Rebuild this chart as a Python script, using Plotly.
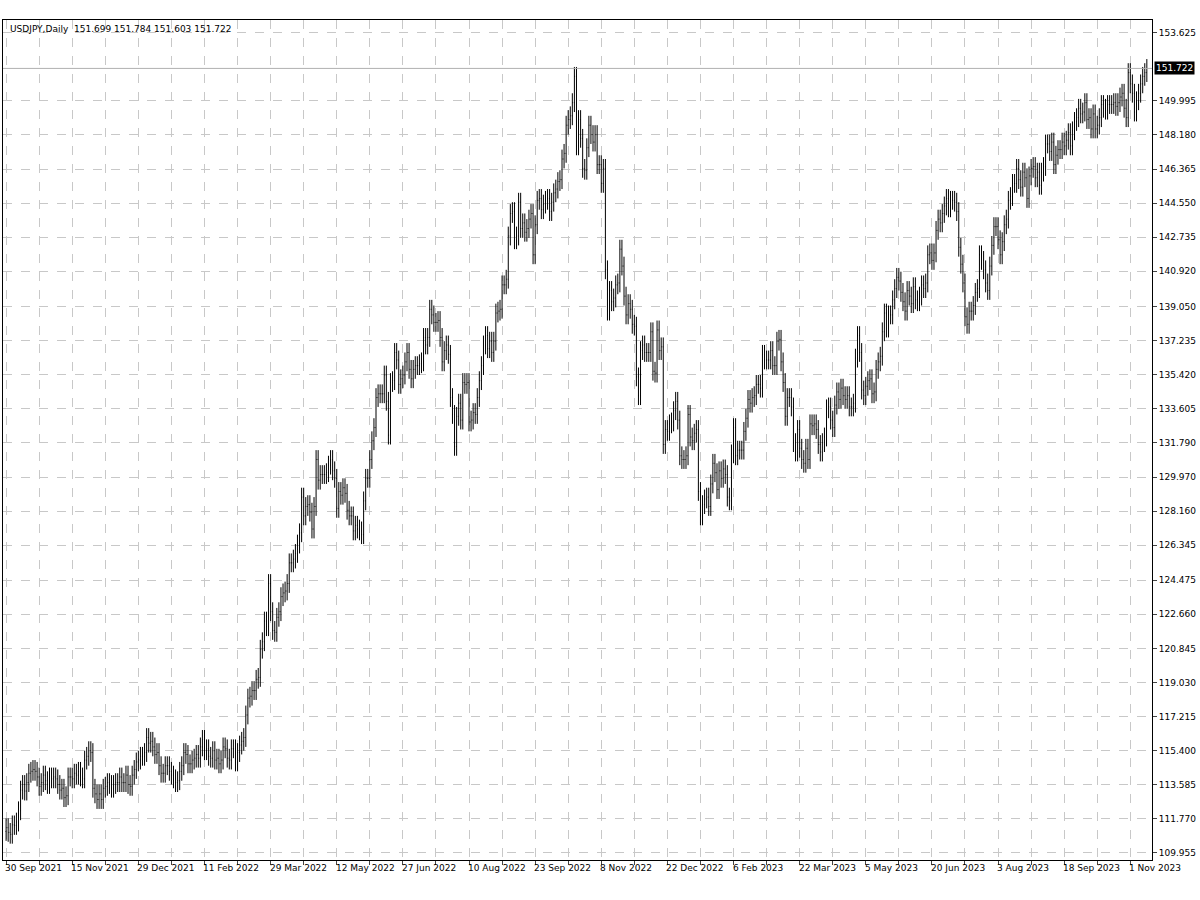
import pandas as pd
import plotly.graph_objects as go

# daily closes, USDJPY
closes = (
    [111.3]
    # Oct 2021
    + [111.05, 110.95, 111.45, 111.42, 111.6, 112.2, 113.3, 113.6, 113.25, 113.7, 114.2,
       114.3, 114.4, 114.3, 114.0, 113.5, 113.7, 114.1, 113.8, 113.6, 114.0]
    # Nov 2021
    + [113.9, 114.0, 113.9, 113.6, 113.3, 113.4, 112.9, 113.0, 114.0, 114.0, 113.9,
       114.2, 114.1, 114.3, 114.0, 113.9, 114.9, 115.1, 115.4, 115.3, 113.4, 113.1]
    # Dec 2021
    + [112.8, 113.1, 112.8, 113.4, 113.5, 113.7, 113.6, 113.4, 113.6, 113.7, 113.7, 114.0,
       113.7, 113.7, 114.1, 113.6, 113.5, 114.1, 114.4, 114.8, 114.9, 115.1, 115.1]
    # Jan 2022
    + [115.3, 116.1, 115.8, 115.9, 115.6, 115.2, 115.3, 114.6, 114.2, 114.2, 114.6,
       114.6, 114.3, 114.1, 113.9, 113.7, 113.8, 114.3, 114.6, 115.3, 115.2]
    # Feb 2022
    + [114.7, 114.7, 114.9, 115.0, 115.2, 115.0, 115.6, 116.0, 115.4, 115.5,
       115.1, 115.0, 115.4, 114.9, 115.0, 114.7, 114.9, 115.6, 115.5, 115.0]
    # Mar 2022
    + [114.9, 115.5, 115.5, 114.8, 115.3, 115.7, 115.9, 116.1, 117.3, 118.2, 118.3, 118.6,
       118.6, 119.2, 119.3, 120.8, 121.2, 122.3, 122.0, 124.3, 122.8, 121.8, 121.7]
    # Apr 2022
    + [122.5, 122.8, 123.6, 123.8, 123.9, 124.3, 125.4, 125.4, 125.6, 125.9, 126.4,
       127.0, 128.9, 127.9, 128.4, 128.5, 128.1, 127.2, 128.4, 130.9, 129.8]
    # May 2022
    + [130.1, 130.1, 130.1, 130.2, 130.6, 130.9, 130.3, 129.9, 128.3, 129.2, 129.0,
       129.4, 129.1, 128.2, 127.9, 127.9, 127.1, 127.4, 127.2, 127.1, 126.9, 128.7]
    # Jun 2022
    + [129.9, 129.9, 130.9, 131.9, 132.6, 134.2, 134.4, 134.4, 134.4, 135.4, 134.0,
       132.2, 135.0, 135.1, 136.6, 136.2, 134.9, 135.2, 135.4, 136.1, 136.6, 135.7]
    # Jul 2022
    + [135.2, 135.7, 135.9, 135.9, 136.0, 136.1, 137.4, 137.0, 137.4, 138.9, 138.6,
       138.2, 138.2, 138.3, 137.4, 136.1, 136.7, 137.0, 136.5, 134.2, 133.3]
    # Aug 2022
    + [131.6, 133.2, 133.9, 133.0, 135.0, 134.9, 135.0, 132.9, 133.0, 133.4, 133.3, 134.2,
       135.1, 135.9, 137.0, 137.5, 136.8, 137.2, 136.6, 137.2, 138.7, 138.8, 138.9]
    # Sep 2022
    + [140.2, 140.2, 140.5, 142.8, 144.0, 144.1, 142.6, 142.8, 144.6, 143.2, 143.5,
       143.0, 143.2, 143.7, 144.0, 141.8, 143.4, 144.7, 144.8, 144.2, 144.5, 144.7]
    # Oct 2022
    + [144.8, 144.1, 144.6, 145.1, 145.3, 145.7, 145.8, 146.9, 147.2, 148.7, 149.0,
       149.2, 149.9, 151.3, 147.6, 149.0, 148.0, 146.4, 146.3, 147.5, 148.7]
    # Nov 2022
    + [148.2, 147.8, 148.2, 146.6, 146.6, 145.6, 146.4, 141.0, 138.8, 139.9, 139.3,
       139.5, 140.2, 140.3, 142.1, 141.2, 139.6, 138.6, 139.2, 138.9, 138.1, 138.0]
    # Dec 2022
    + [135.3, 134.3, 136.7, 137.0, 136.6, 136.6, 136.6, 137.7, 135.6, 135.5, 137.8,
       136.7, 136.9, 131.7, 132.5, 132.4, 132.8, 132.9, 133.5, 134.0, 133.0, 131.1]
    # Jan 2023
    + [130.9, 130.9, 131.1, 133.3, 132.1, 131.9, 132.3, 132.5, 129.2, 127.9, 128.5,
       128.8, 128.9, 128.4, 129.6, 130.7, 130.2, 129.3, 130.3, 129.9, 130.4, 130.1]
    # Feb 2023
    + [128.9, 128.7, 131.2, 132.6, 131.1, 131.4, 131.4, 131.4, 132.4, 133.1,
       134.1, 133.9, 134.2, 134.3, 134.9, 134.9, 134.7, 136.5, 136.2, 136.2]
    # Mar 2023
    + [136.2, 136.7, 135.9, 135.9, 137.2, 137.3, 136.1, 135.0, 133.2, 134.2, 134.2, 133.7,
       131.8, 131.3, 132.5, 131.5, 130.9, 130.7, 131.5, 130.9, 132.8, 132.7, 132.8]
    # Apr 2023
    + [132.5, 131.7, 131.3, 131.8, 132.1, 133.6, 133.7, 133.0, 132.6, 133.8,
       134.5, 134.1, 134.7, 134.3, 134.1, 134.3, 133.7, 133.7, 133.9, 136.3]
    # May 2023
    + [137.5, 136.6, 134.6, 134.3, 134.8, 135.1, 135.2, 134.4, 134.5, 135.7, 136.1, 136.4,
       137.7, 138.7, 137.9, 138.6, 138.6, 139.4, 140.0, 140.6, 140.4, 139.8, 139.3]
    # Jun 2023
    + [138.8, 139.9, 139.6, 139.2, 140.1, 139.4, 139.3, 139.6, 140.2, 140.0, 140.3,
       141.8, 141.9, 141.5, 141.9, 143.1, 143.7, 143.5, 144.0, 144.4, 144.8, 144.3]
    # Jul 2023
    + [144.7, 144.7, 144.6, 144.1, 142.2, 141.3, 140.3, 138.5, 138.1, 138.8, 138.8,
       139.1, 139.8, 140.0, 141.8, 141.5, 141.0, 140.3, 139.9, 141.2, 142.3]
    # Aug 2023
    + [143.3, 143.3, 142.6, 141.8, 142.5, 143.4, 143.7, 144.7, 144.9, 145.6, 145.6, 146.4,
       145.8, 145.4, 146.2, 145.9, 144.8, 146.0, 146.4, 146.5, 145.9, 146.2, 145.5]
    # Sep 2023
    + [146.2, 146.5, 147.7, 147.7, 147.3, 147.8, 146.6, 147.1, 147.4, 147.4, 147.8,
       147.6, 147.9, 148.3, 147.6, 148.4, 148.9, 149.1, 149.6, 149.3, 149.4]
    # Oct 2023
    + [149.9, 149.0, 149.1, 148.5, 149.3, 148.5, 148.7, 149.1, 149.8, 149.6, 149.5,
       149.8, 149.8, 149.8, 149.9, 149.7, 149.9, 150.2, 150.4, 149.6, 149.1, 151.5]
    # Nov 2023
    + [150.9, 150.4, 149.4, 150.0, 150.4, 150.9, 151.3, 151.5, 151.72]
)

date_labels = ["30 Sep 2021", "15 Nov 2021", "29 Dec 2021", "11 Feb 2022", "29 Mar 2022",
               "12 May 2022", "27 Jun 2022", "10 Aug 2022", "23 Sep 2022", "8 Nov 2022",
               "22 Dec 2022", "6 Feb 2023", "22 Mar 2023", "5 May 2023", "20 Jun 2023",
               "3 Aug 2023", "18 Sep 2023", "1 Nov 2023"]
# 151.810 is hidden behind the last-price box in the reference
price_ticks = [109.955, 111.770, 113.585, 115.400, 117.215, 119.030, 120.845, 122.660,
               124.475, 126.345, 128.160, 129.970, 131.790, 133.605, 135.420, 137.235,
               139.050, 140.920, 142.735, 144.550, 146.365, 148.180, 149.995, 153.625]
header = "USDJPY,Daily  151.699 151.784 151.603 151.722"
last_price = 151.722

dates = pd.bdate_range("2021-09-30", periods=len(closes)).strftime("%Y-%m-%d").tolist()
opens = [closes[0] - 0.2] + closes[:-1]
highs = [max(o, c) + 0.5 for o, c in zip(opens, closes)]
lows = [min(o, c) - 0.5 for o, c in zip(opens, closes)]

bar_col = "#000000"
font = "DejaVu Sans"
fig = go.Figure(go.Ohlc(
    x=dates, open=opens, high=highs, low=lows, close=closes,
    increasing=dict(line=dict(color=bar_col, width=1)),
    decreasing=dict(line=dict(color=bar_col, width=1)),
    tickwidth=0.25, hoverinfo="skip",
))

# vertical grid every 16 bars, date labels every 32 (left-aligned, MT4 style)
tickvals = [dates[i] for i in range(0, len(dates), 16)]
for k, lab in enumerate(date_labels):
    fig.add_annotation(x=dates[k * 32], xref="x", y=0, yref="paper", text=lab,
                       xanchor="left", yanchor="top", showarrow=False, yshift=-1, xshift=-3,
                       font=dict(size=9, family=font, color="black"))

fig.add_hline(y=last_price, line=dict(color="#b0b0b0", width=1))
fig.add_annotation(x=1, xref="paper", y=last_price, yref="y", text="151.722",
                   xanchor="left", showarrow=False, bgcolor="black",
                   font=dict(color="white", size=9, family=font), borderpad=1, xshift=2)
fig.add_annotation(x=0.004, xref="paper", y=1, yref="paper", text=header, xanchor="left",
                   yanchor="top", showarrow=False, font=dict(size=9, family=font, color="black"),
                   yshift=-2)

fig.update_layout(
    width=1200, height=900, margin=dict(l=3, r=48, t=20, b=40),
    paper_bgcolor="white", plot_bgcolor="white", showlegend=False,
    font=dict(family=font, size=9, color="black"),
    xaxis=dict(type="category", range=[-1.5, len(dates) + 1.5], rangeslider=dict(visible=False),
               tickvals=tickvals, showticklabels=False, ticks="outside", ticklen=4, automargin=False,
               showgrid=True, gridcolor="#c8c8c8", griddash="dash", gridwidth=1,
               showline=True, linecolor="black", mirror=True, linewidth=1),
    yaxis=dict(side="right", range=[109.58, 154.3], tickvals=price_ticks, automargin=False,
               ticktext=[f"{v:.3f}" for v in price_ticks], ticks="outside", ticklen=4,
               showgrid=True, gridcolor="#c8c8c8", griddash="dash", gridwidth=1,
               showline=True, linecolor="black", mirror=True, linewidth=1, zeroline=False),
)

fig.write_html("out.html", config={"displayModeBar": False},
               post_script="document.body.style.margin='0';")
